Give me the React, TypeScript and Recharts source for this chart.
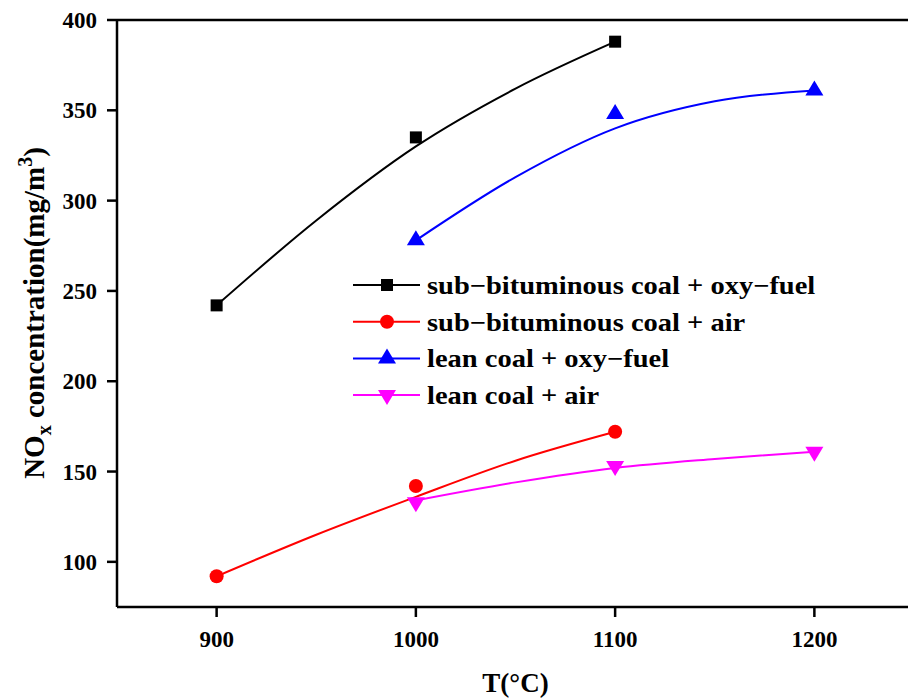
import {
  ComposedChart,
  Line,
  Scatter,
  XAxis,
  YAxis,
  Legend,
  ReferenceLine,
} from 'recharts'

// measured points
const subTemps = [900, 1000, 1100]
const leanTemps = [1000, 1100, 1200]
const subOxy = [242, 335, 388]
const subAir = [92, 142, 172]
const leanOxy = [278, 348, 361]
const leanAir = [133, 153, 161]

// fitted curves
const subFitTemps = [900, 950, 1000, 1050, 1100]
const leanFitTemps = [1000, 1050, 1100, 1150, 1200]
const subOxyFit = [242, 289, 330, 362, 388]
const subAirFit = [92, 115, 136, 156, 172]
const leanOxyFit = [278, 313, 340, 355, 361]
const leanAirFit = [134, 144, 152, 157, 161]

const xTicks = [900, 1000, 1100, 1200]
const yTicks = [100, 150, 200, 250, 300, 350, 400]

const FONT = "'Liberation Serif', 'Times New Roman', serif"

const toRows = (xs: number[], ys: number[]) => xs.map((t, i) => ({ t, v: ys[i] }))

type MarkerKind = 'square' | 'circle' | 'up' | 'down'

function Marker({ kind, cx, cy, color }: { kind: MarkerKind; cx: number; cy: number; color: string }) {
  if (kind === 'square') return <rect x={cx - 6} y={cy - 6} width={12} height={12} fill={color} />
  if (kind === 'circle') return <circle cx={cx} cy={cy} r={7} fill={color} />
  if (kind === 'up')
    return <polygon points={`${cx},${cy - 10} ${cx - 9},${cy + 5} ${cx + 9},${cy + 5}`} fill={color} />
  return <polygon points={`${cx},${cy + 10} ${cx - 9},${cy - 5} ${cx + 9},${cy - 5}`} fill={color} />
}

const series = [
  { name: 'sub−bituminous coal + oxy−fuel', color: '#000000', kind: 'square' as MarkerKind, pts: toRows(subTemps, subOxy), fit: toRows(subFitTemps, subOxyFit) },
  { name: 'sub−bituminous coal + air', color: '#ff0000', kind: 'circle' as MarkerKind, pts: toRows(subTemps, subAir), fit: toRows(subFitTemps, subAirFit) },
  { name: 'lean coal + oxy−fuel', color: '#0000ff', kind: 'up' as MarkerKind, pts: toRows(leanTemps, leanOxy), fit: toRows(leanFitTemps, leanOxyFit) },
  { name: 'lean coal + air', color: '#ff00ff', kind: 'down' as MarkerKind, pts: toRows(leanTemps, leanAir), fit: toRows(leanFitTemps, leanAirFit) },
]

function LegendBox() {
  const rowY = (i: number) => 18 + i * 36.7
  return (
    <svg width={520} height={150} style={{ overflow: 'visible' }}>
      {series.map((s, i) => (
        <g key={s.name}>
          <line x1={0} x2={67} y1={rowY(i)} y2={rowY(i)} stroke={s.color} strokeWidth={2} />
          <Marker kind={s.kind} cx={34} cy={rowY(i)} color={s.color} />
          <g transform={`translate(74, ${rowY(i) + 9}) scale(1.14, 1)`}>
            <text x={0} y={0} fontFamily={FONT} fontWeight="bold" fontSize={25} fill="#000">
              {s.name}
            </text>
          </g>
        </g>
      ))}
    </svg>
  )
}

function YTitle() {
  return (
    <text
      transform="translate(44, 313) rotate(-90)"
      textAnchor="middle"
      fontFamily={FONT}
      fontWeight="bold"
      fontSize={29}
      fill="#000"
    >
      NO
      <tspan fontSize={20} dy={7}>x</tspan>
      <tspan dy={-7}> concentration(mg/m</tspan>
      <tspan fontSize={20} dy={-12}>3</tspan>
      <tspan dy={12}>)</tspan>
    </text>
  )
}

function XTick({ x, y, payload }: any) {
  return (
    <text x={x} y={y + 16} textAnchor="middle" fontFamily={FONT} fontWeight="bold" fontSize={23} fill="#000">
      {payload.value}
    </text>
  )
}

function YTick({ x, y, payload }: any) {
  return (
    <text x={x} y={y + 8} textAnchor="end" fontFamily={FONT} fontWeight="bold" fontSize={23} fill="#000">
      {payload.value}
    </text>
  )
}

export default function App() {
  return (
    <div style={{ position: 'absolute', left: 0, top: 0, width: 908, height: 698, overflow: 'hidden', background: '#fff' }}>
      <ComposedChart width={920} height={698} margin={{ top: 20, right: 6, bottom: 0, left: 0 }}>
        <XAxis
          type="number"
          dataKey="t"
          domain={[850, 1250]}
          ticks={xTicks}
          allowDuplicatedCategory={false}
          height={91}
          tick={<XTick />}
          tickSize={10}
          tickMargin={14}
          stroke="#000"
          strokeWidth={2.5}
          label={{ value: 'T(°C)', position: 'insideBottom', offset: 6, fill: '#000', fontSize: 27, fontWeight: 'bold', fontFamily: FONT }}
        />
        <YAxis
          type="number"
          dataKey="v"
          domain={[75, 400]}
          ticks={yTicks}
          width={117}
          tick={<YTick />}
          tickSize={10}
          tickMargin={10}
          stroke="#000"
          strokeWidth={2.5}
          label={<YTitle />}
        />
        <ReferenceLine y={400} stroke="#000" strokeWidth={2.5} />
        {series.map((s) => (
          <Line
            key={`fit-${s.name}`}
            data={s.fit}
            dataKey="v"
            type="monotone"
            stroke={s.color}
            strokeWidth={2}
            dot={false}
            activeDot={false}
            legendType="none"
            isAnimationActive={false}
          />
        ))}
        {series.map((s) => (
          <Scatter
            key={`pts-${s.name}`}
            data={s.pts}
            dataKey="v"
            fill={s.color}
            isAnimationActive={false}
            shape={(p: any) => <Marker kind={s.kind} cx={p.cx} cy={p.cy} color={s.color} />}
          />
        ))}
        <Legend
          layout="vertical"
          align="center"
          verticalAlign="middle"
          content={() => <LegendBox />}
          wrapperStyle={{ left: 353, top: 267, width: 520, height: 150 }}
        />
      </ComposedChart>
    </div>
  )
}
